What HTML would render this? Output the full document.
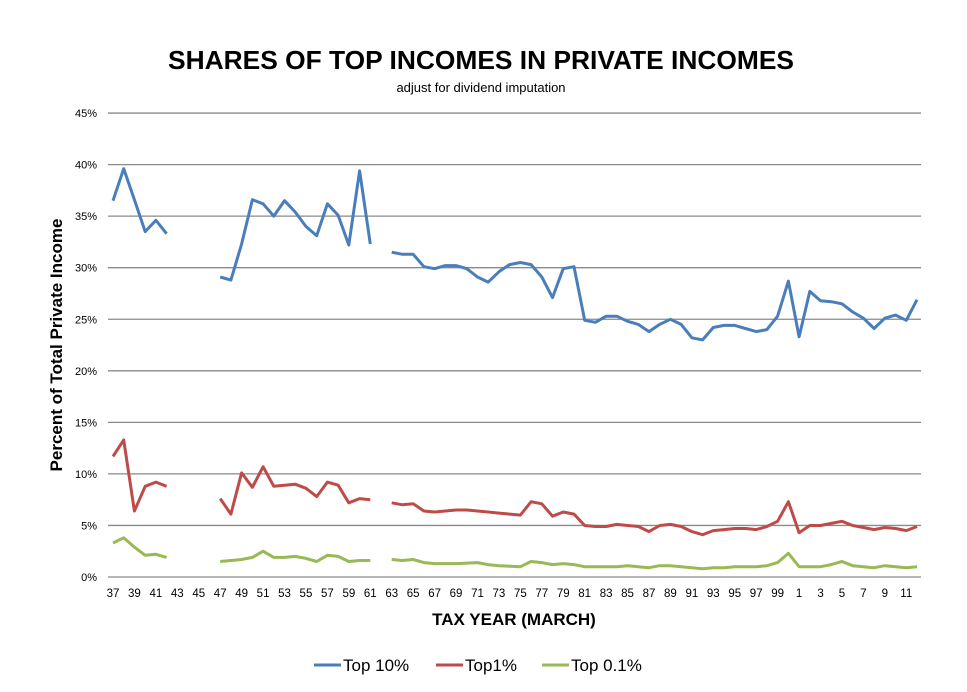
<!DOCTYPE html>
<html><head><meta charset="utf-8"><style>
html,body{margin:0;padding:0;background:#fff;}
svg{display:block;font-family:"Liberation Sans",sans-serif;}
</style></head><body>
<svg id="c" width="967" height="692" xmlns="http://www.w3.org/2000/svg">
<rect width="967" height="692" fill="#fff"/>
<text x="481" y="69" text-anchor="middle" font-size="26" font-weight="bold" fill="#000" textLength="626" lengthAdjust="spacingAndGlyphs">SHARES OF TOP INCOMES IN PRIVATE INCOMES</text>
<text x="481" y="92" text-anchor="middle" font-size="13" fill="#000">adjust for dividend imputation</text>
<text transform="translate(62,345) rotate(-90)" text-anchor="middle" font-size="17" font-weight="bold" fill="#000">Percent of Total Private Income</text>
<text x="514" y="625" text-anchor="middle" font-size="17" font-weight="bold" fill="#000">TAX YEAR (MARCH)</text>
<g id="grid"></g><g id="series"></g>
<line x1="314" y1="665" x2="341" y2="665" stroke="#4a7ebb" stroke-width="3"/>
<text x="343" y="671" font-size="17" fill="#000">Top 10%</text>
<line x1="436" y1="665" x2="463" y2="665" stroke="#be4b48" stroke-width="3"/>
<text x="465" y="671" font-size="17" fill="#000">Top1%</text>
<line x1="542" y1="665" x2="569" y2="665" stroke="#98b954" stroke-width="3"/>
<text x="571" y="671" font-size="17" fill="#000">Top 0.1%</text>
</svg>
<script>
var NS="http://www.w3.org/2000/svg";
function el(t,a,p,txt){var e=document.createElementNS(NS,t);for(var k in a)e.setAttribute(k,a[k]);if(txt!=null)e.textContent=txt;p.appendChild(e);return e;}
var g=document.getElementById('grid'),s=document.getElementById('series');
function Y(v){return 577-v*10.31;}
function X(y){return 113+(y-37)*10.72;}
for(var i=0;i<=9;i++){var y=Y(i*5);
el('line',{x1:108,x2:921,y1:y,y2:y,stroke:'#8a8a8a','stroke-width':1.3},g);
el('text',{x:97,y:y+4,'text-anchor':'end','font-size':11,fill:'#000'},g,(i*5)+'%');}
for(var yr=37;yr<=111;yr+=2){el('text',{x:X(yr),y:597,'text-anchor':'middle','font-size':11.5,fill:'#000'},g,String(yr%100==0?0:yr>99?yr-100:yr));}
var blue={37:36.5,38:39.6,39:36.6,40:33.5,41:34.6,42:33.3,47:29.1,48:28.8,49:32.3,50:36.6,51:36.2,52:35.0,53:36.5,54:35.4,55:34.0,56:33.1,57:36.2,58:35.1,59:32.2,60:39.4,61:32.3,
63:31.5,64:31.3,65:31.3,66:30.1,67:29.9,68:30.2,69:30.2,70:29.9,71:29.1,72:28.6,73:29.6,74:30.3,75:30.5,76:30.3,77:29.1,78:27.1,79:29.9,80:30.1,81:24.9,82:24.7,83:25.3,84:25.3,85:24.8,86:24.5,87:23.8,88:24.5,89:25.0,90:24.5,91:23.2,92:23.0,93:24.2,94:24.4,95:24.4,96:24.1,97:23.8,98:24.0,99:25.3,100:28.7,101:23.3,102:27.7,103:26.8,104:26.7,105:26.5,106:25.7,107:25.1,108:24.1,109:25.1,110:25.4,111:24.9,112:26.9};
var red={37:11.7,38:13.3,39:6.4,40:8.8,41:9.2,42:8.8,47:7.6,48:6.1,49:10.1,50:8.7,51:10.7,52:8.8,53:8.9,54:9.0,55:8.6,56:7.8,57:9.2,58:8.9,59:7.2,60:7.6,61:7.5,
63:7.2,64:7.0,65:7.1,66:6.4,67:6.3,68:6.4,69:6.5,70:6.5,71:6.4,72:6.3,73:6.2,74:6.1,75:6.0,76:7.3,77:7.1,78:5.9,79:6.3,80:6.1,81:5.0,82:4.9,83:4.9,84:5.1,85:5.0,86:4.9,87:4.4,88:5.0,89:5.1,90:4.9,91:4.4,92:4.1,93:4.5,94:4.6,95:4.7,96:4.7,97:4.6,98:4.9,99:5.4,100:7.3,101:4.3,102:5.0,103:5.0,104:5.2,105:5.4,106:5.0,107:4.8,108:4.6,109:4.8,110:4.7,111:4.5,112:4.9};
var green={37:3.3,38:3.8,39:2.9,40:2.1,41:2.2,42:1.9,47:1.5,48:1.6,49:1.7,50:1.9,51:2.5,52:1.9,53:1.9,54:2.0,55:1.8,56:1.5,57:2.1,58:2.0,59:1.5,60:1.6,61:1.6,
63:1.7,64:1.6,65:1.7,66:1.4,67:1.3,68:1.3,69:1.3,70:1.35,71:1.4,72:1.2,73:1.1,74:1.05,75:1.0,76:1.5,77:1.4,78:1.2,79:1.3,80:1.2,81:1.0,82:1.0,83:1.0,84:1.0,85:1.1,86:1.0,87:0.9,88:1.1,89:1.1,90:1.0,91:0.9,92:0.8,93:0.9,94:0.9,95:1.0,96:1.0,97:1.0,98:1.1,99:1.4,100:2.3,101:1.0,102:1.0,103:1.0,104:1.2,105:1.5,106:1.1,107:1.0,108:0.9,109:1.1,110:1.0,111:0.9,112:1.0};
function draw(d,col){var pts=[];for(var yr=37;yr<=113;yr++){if(d[yr]!==undefined){pts.push(X(yr).toFixed(1)+','+Y(d[yr]).toFixed(1));}else{if(pts.length)el('polyline',{points:pts.join(' '),fill:'none',stroke:col,'stroke-width':3,'stroke-linejoin':'round'},s);pts=[];}}}
draw(green,'#98b954');draw(red,'#be4b48');draw(blue,'#4a7ebb');
</script>
</body></html>
